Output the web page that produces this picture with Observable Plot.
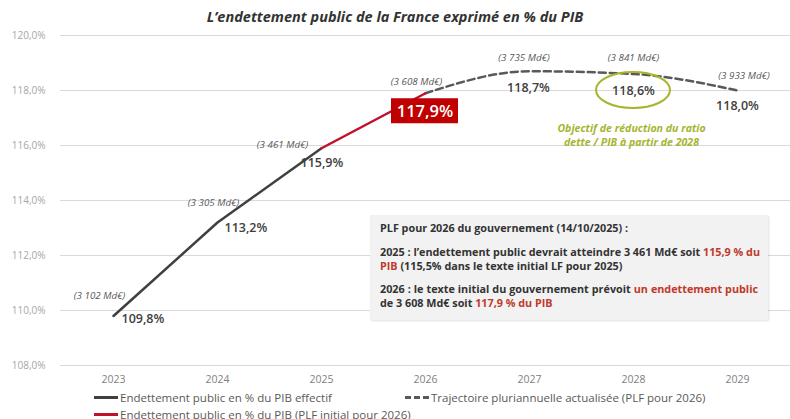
<!DOCTYPE html>
<html><head><meta charset="utf-8">
<script src="https://cdn.jsdelivr.net/npm/d3@7"></script>
<script src="https://cdn.jsdelivr.net/npm/@observablehq/plot@0.6"></script>
<style>
body{margin:0;background:#fff;width:790px;height:419px;overflow:hidden;position:relative;font-family:"Open Sans",sans-serif;}
#title{position:absolute;top:7px;left:0;width:790px;text-align:center;font-size:14.5px;line-height:20px;font-weight:bold;font-style:italic;color:#333;}
#chart{position:absolute;top:0;left:0;}
#note{position:absolute;left:370px;top:215px;width:378px;height:91px;background:#f2f2f2;padding:6px 10px 8px 10px;font-size:10.8px;line-height:14px;font-weight:bold;color:#333;box-shadow:1px 1px 2px rgba(0,0,0,0.12);}
#note div{white-space:nowrap;}
#note .j{text-align:justify;text-align-last:justify;}
#note .red{color:#c0392b;}
.legend{position:absolute;font-size:11.5px;color:#595959;display:flex;align-items:center;white-space:nowrap;height:15px;}
.sw{display:inline-block;width:24px;margin-right:2px;}
</style></head>
<body>
<div id="chart"></div>
<div id="title">L’endettement public de la France exprimé en % du PIB</div>
<div id="note">
<div>PLF pour 2026 du gouvernement (14/10/2025) :</div>
<div class="j" style="margin-top:10px">2025 : l’endettement public devrait atteindre 3 461 Md€ soit <span class="red">115,9 % du</span></div>
<div><span class="red">PIB</span> (115,5% dans le texte initial LF pour 2025)</div>
<div class="j" style="margin-top:9px">2026 : le texte initial du gouvernement prévoit <span class="red">un endettement public</span></div>
<div>de 3 608 Md€ soit <span class="red">117,9 % du PIB</span></div>
</div>
<div class="legend" style="left:94px;top:390px"><span class="sw" style="border-top:3px solid #404040"></span>Endettement public en % du PIB effectif</div>
<div class="legend" style="left:405px;top:390px"><span class="sw" style="border-top:3px dashed #595959"></span>Trajectoire pluriannuelle actualisée (PLF pour 2026)</div>
<div class="legend" style="left:94px;top:407px"><span class="sw" style="border-top:3px solid #c0102a"></span>Endettement public en % du PIB (PLF initial pour 2026)</div>
<script>
// ---- data ----
const years = [2023, 2024, 2025, 2026, 2027, 2028, 2029];
const ratios = [109.8, 113.2, 115.9, 117.9, 118.7, 118.6, 118.0];      // % du PIB
const montants = [3102, 3305, 3461, 3608, 3735, 3841, 3933];            // Md€
const effectifYears = [2023, 2024, 2025];
const effectifValues = [109.8, 113.2, 115.9];
const plfYears = [2025, 2026];
const plfValues = [115.9, 117.9];
const trajYears = [2026, 2027, 2028, 2029];
const trajValues = [117.9, 118.7, 118.6, 118.0];
const yTicks = [108, 110, 112, 114, 116, 118, 120];
const highlightYear = 2026;
const objectiveYear = 2028;
const objectiveLines = ["Objectif de réduction du ratio", "dette / PIB à partir de 2028"];

// ---- label layout (offsets in px) ----
const valueOffsets = [[8, 3, "start"], [7, 5, "start"], [-21, 15, "start"], [0, 18, "middle"], [-1, 17, "middle"], [0, 16.5, "middle"], [0, 15, "middle"]];
const montantOffsets = [[-14, -20.5], [-4, -20], [-39, -3], [-9, -11], [-5.5, -13], [0, -16.5], [6.5, -15]];
const objectiveLineDy = [55, 69];

const fmtPct = v => v.toFixed(1).replace(".", ",") + "%";
const fmtMd = v => "(" + String(v).replace(/(\d)(\d{3})$/, "$1 $2") + " Md€)";

const rows = years.map((y, i) => ({year: y, ratio: ratios[i], montant: montants[i], dx: valueOffsets[i][0], dy: valueOffsets[i][1], anchor: valueOffsets[i][2], mdx: montantOffsets[i][0], mdy: montantOffsets[i][1]}));
const effectif = effectifYears.map((y, i) => ({year: y, value: effectifValues[i]}));
const plf = plfYears.map((y, i) => ({year: y, value: plfValues[i]}));
const traj = trajYears.map((y, i) => ({year: y, value: trajValues[i]}));

const textMarks = [];
rows.forEach(r => {
  textMarks.push(Plot.text([r], {x: "year", y: "ratio", text: d => fmtMd(d.montant), dx: r.mdx, dy: r.mdy, fontSize: 9.8, fontStyle: "italic", fill: "#595959"}));
  if (r.year !== highlightYear) {
    textMarks.push(Plot.text([r], {x: "year", y: "ratio", text: d => fmtPct(d.ratio), dx: r.dx, dy: r.dy, textAnchor: r.anchor, fontSize: 12.5, fontWeight: 600, fill: "#404040"}));
  }
});

const hl = rows.find(r => r.year === highlightYear);
const ob = rows.find(r => r.year === objectiveYear);

const highlightBox = (index, scales) => {
  const cx = scales.x(hl.year) + hl.dx, cy = scales.y(hl.ratio) + hl.dy;
  const g = d3.create("svg:g");
  g.append("rect").attr("x", cx - 34).attr("y", cy - 12.5).attr("width", 67).attr("height", 25).attr("fill", "#c00000");
  g.append("text").attr("x", cx).attr("y", cy).attr("dy", "0.35em").attr("text-anchor", "middle")
    .attr("fill", "white").attr("font-size", 16.5).attr("font-weight", 600).attr("font-family", "Open Sans, sans-serif").text(fmtPct(hl.ratio));
  return g.node();
};
const objectiveEllipse = (index, scales) => {
  const cx = scales.x(ob.year), cy = scales.y(ob.ratio) + ob.dy;
  return d3.create("svg:ellipse").attr("cx", cx).attr("cy", cy).attr("rx", 37).attr("ry", 18)
    .attr("fill", "none").attr("stroke", "#a9b52c").attr("stroke-width", 2).node();
};

const chart = Plot.plot({
  width: 790, height: 390,
  marginTop: 35, marginBottom: 25, marginLeft: 60, marginRight: 0,
  style: {fontFamily: "Open Sans, sans-serif", background: "transparent"},
  x: {type: "point", domain: years, padding: 0.5, label: null},
  y: {domain: [108, 120], label: null},
  marks: [
    Plot.gridY(yTicks, {stroke: "#d9d9d9", strokeOpacity: 1}),
    Plot.axisY(yTicks, {tickSize: 0, tickPadding: 15, tickFormat: fmtPct, fontSize: 10, fill: "#a6a6a6", label: null}),
    Plot.axisX(years, {tickSize: 0, tickPadding: 10, tickFormat: d => String(d), fontSize: 10.5, fill: "#808080", label: null}),
    Plot.line(traj, {x: "year", y: "value", stroke: "#595959", strokeWidth: 2.5, strokeDasharray: "7,4", curve: "monotone-x"}),
    Plot.line(effectif, {x: "year", y: "value", stroke: "#404040", strokeWidth: 2.5}),
    Plot.line(plf, {x: "year", y: "value", stroke: "#c0102a", strokeWidth: 2.5}),
    ...textMarks,
    highlightBox,
    objectiveEllipse,
    ...objectiveLines.map((t, i) => Plot.text([ob], {x: "year", y: "ratio", text: () => t, dy: objectiveLineDy[i], dx: -2, fontSize: 10.6, fontWeight: "bold", fontStyle: "italic", fill: "#a5b530"}))
  ]
});
document.getElementById("chart").appendChild(chart);
</script>
</body></html>
